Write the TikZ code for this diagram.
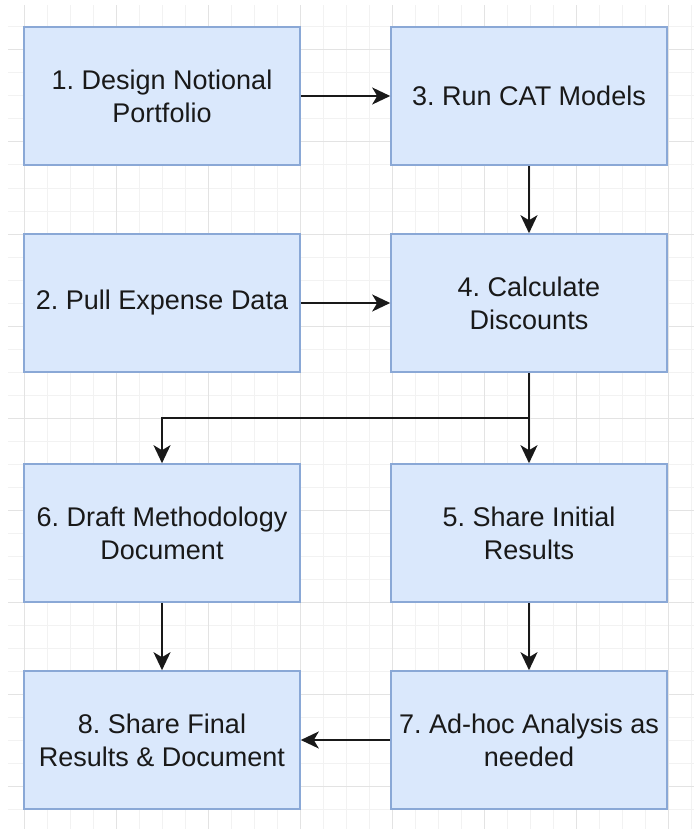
\documentclass[tikz,border=0pt]{standalone}
\usepackage{fontspec}
\setmainfont{Liberation Sans}
\usetikzlibrary{arrows.meta}
\frenchspacing
\definecolor{boxfill}{HTML}{DAE8FC}
\definecolor{boxline}{HTML}{8AA8D6}
\definecolor{gridminor}{HTML}{F2F2F2}
\definecolor{gridmajor}{HTML}{E3E3E3}
\tikzset{
  stepbox/.style={rectangle, draw=boxline, fill=boxfill, line width=1.6pt,
    minimum width=276pt, minimum height=138pt, inner sep=0pt, align=center,
    font=\fontsize{27pt}{33pt}\selectfont, text=black!90},
  flow/.style={line width=2pt, black!90,
    -{Stealth[length=18pt, width=17pt, inset=5pt]}}
}
\begin{document}
\begin{tikzpicture}[x=1pt, y=-1pt]
  \useasboundingbox (0,0) rectangle (694,829);
  % background grid
  \begin{scope}
    \clip (8,6) rectangle (694,829);
    \foreach \k in {0,...,30} {
      \draw[gridminor, line width=1pt] ({1+23*\k},0) -- ({1+23*\k},829);
    }
    \foreach \k in {0,...,36} {
      \draw[gridminor, line width=1pt] (0,{4+23*\k}) -- (694,{4+23*\k});
    }
    \foreach \k in {0,...,7} {
      \draw[gridmajor, line width=1pt] ({24+92*\k},0) -- ({24+92*\k},829);
    }
    \foreach \k in {0,...,8} {
      \draw[gridmajor, line width=1pt] (0,{50+92*\k}) -- (694,{50+92*\k});
    }
  \end{scope}

  % process steps
  \node[stepbox] (n1) at (162,96)  {1. Design Notional\\Portfolio};
  \node[stepbox] (n3) at (529,96)  {3. Run CAT Models};
  \node[stepbox] (n2) at (162,303) {2. Pull Expense Data};
  \node[stepbox] (n4) at (529,303) {4. Calculate\\Discounts};
  \node[stepbox] (n6) at (162,533) {6. Draft Methodology\\Document};
  \node[stepbox] (n5) at (529,533) {5. Share Initial\\Results};
  \node[stepbox] (n8) at (162,740) {8. Share Final\\Results \& Document};
  \node[stepbox] (n7) at (529,740) {7. Ad-hoc Analysis as\\needed};

  % connectors
  \coordinate (split) at (529,418);
  \draw[flow] (n1) -- (n3);
  \draw[flow] (n3) -- (n4);
  \draw[flow] (n2) -- (n4);
  \draw[flow] (n4.south) -- (n5.north);
  \draw[flow] (split) -| (n6.north);
  \draw[flow] (n6) -- (n8);
  \draw[flow] (n5) -- (n7);
  \draw[flow] (n7) -- (n8);
\end{tikzpicture}
\end{document}
